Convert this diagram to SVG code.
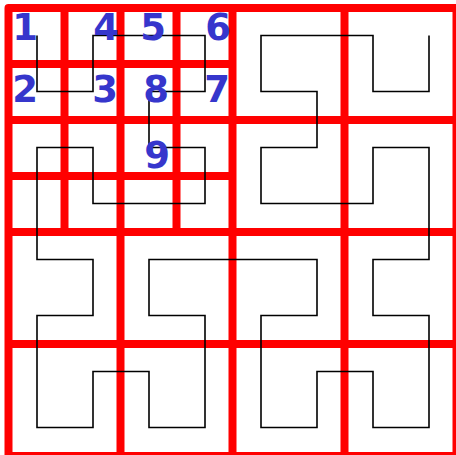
<svg xmlns="http://www.w3.org/2000/svg" width="456" height="455" viewBox="0 0 456 455">
<style>
.g{stroke:#ff0000;stroke-width:8;fill:none;stroke-linejoin:round}
.c{stroke:#000;stroke-width:1.6;fill:none}
.t{font-family:"DejaVu Sans",sans-serif;font-weight:bold;font-size:37px;fill:#3636cc;text-anchor:middle}
</style>
<rect width="456" height="455" fill="#fff"/>
<g id="grid">
<rect class="g" x="8.5" y="8" width="448" height="448"/>
<path class="g" d="M120.5,8V456M232.5,8V456M344.5,8V456M8.5,120H456.5M8.5,232H456.5M8.5,344H456.5"/>
<path class="g" d="M64.5,8V232M176.5,8V232M8.5,64H232.5M8.5,176H232.5"/>
</g>
<g id="connectors">
<path class="c" d="M37,35.5V91.5H93V35.5H205V91.5H149V147.5H205V203.5H93V147.5H37V259.5H93V315.5H37V427.5H93V371.5H149V427.5H205V315.5H149V259.5H317V315.5H261V427.5H317V371.5H373V427.5H429V315.5H373V259.5H429V147.5H373V203.5H261V147.5H317V91.5H261V35.5H373V91.5H429V35.5"/>
</g>
<g id="n1"><text class="t" x="25" y="40">1</text></g>
<g id="n4"><text class="t" x="106" y="40">4</text></g>
<g id="n5"><text class="t" x="153" y="40">5</text></g>
<g id="n6"><text class="t" x="218" y="40">6</text></g>
<g id="n2"><text class="t" x="25" y="102">2</text></g>
<g id="n3"><text class="t" x="105" y="102">3</text></g>
<g id="n8"><text class="t" x="156" y="102">8</text></g>
<g id="n7"><text class="t" x="217" y="102">7</text></g>
<g id="n9"><text class="t" x="157" y="168">9</text></g>
</svg>
